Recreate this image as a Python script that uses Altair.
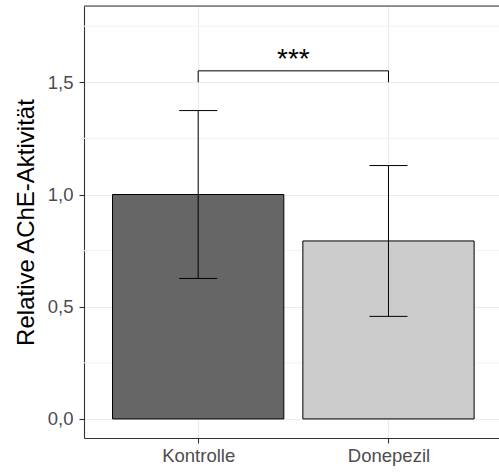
import altair as alt
import pandas as pd

# Group means with their error half-widths
categories = ["Kontrolle", "Donepezil"]
means = [1.0, 0.793]
errors = [0.374, 0.336]
bar_colors = ["#666666", "#cccccc"]

# Significance bracket between the two groups
bracket_y = 1.551
bracket_foot = 1.5
signif_label = "***"

y_ticks = [0.0, 0.5, 1.0, 1.5]
y_minor = [0.25, 0.75, 1.25, 1.75]

W, H = 415, 432
FONT = "Liberation Sans"

df = pd.DataFrame({
    "group": categories,
    "pos": list(range(1, len(categories) + 1)),
    "mean": means,
    "err": errors,
})
df["lo"] = df["mean"] - df["err"]
df["hi"] = df["mean"] + df["err"]
df["left"] = df["pos"] - 0.45
df["right"] = df["pos"] + 0.45
df["cap_l"] = df["pos"] - 0.1
df["cap_r"] = df["pos"] + 0.1

label_expr = " : ".join(
    f"datum.value == {i + 1} ? '{c}'" for i, c in enumerate(categories[:-1])
) + f" : '{categories[-1]}'"

x_scale = alt.Scale(domain=[0.4, 0.4 + W / 190.3], nice=False, zero=False)
y_scale = alt.Scale(domain=[-0.085, 1.84], nice=False, zero=False)

x_axis = alt.Axis(
    values=[1, 2], labelExpr=label_expr, title=None,
    grid=True, gridColor="#ebebeb", gridWidth=1.1,
    domainColor="#333333", domainWidth=1.1,
    tickColor="#333333", tickSize=5, tickWidth=1.1,
    labelFont=FONT, labelFontSize=18.5, labelColor="#4d4d4d",
    labelPadding=3,
)
y_axis = alt.Axis(
    values=y_ticks, format=".1f", labelExpr="replace(datum.label, '.', ',')",
    title="Relative AChE-Aktivität", titleFont=FONT, titleFontSize=24,
    titleFontWeight="normal", titleColor="#000000",
    titleAngle=270, titleBaseline="alphabetic", titleAlign="center",
    titleX=-51, titleY=H / 2,
    grid=True, gridColor="#ebebeb", gridWidth=1.1,
    domainColor="#333333", domainWidth=1.1,
    tickColor="#333333", tickSize=5, tickWidth=1.1,
    labelFont=FONT, labelFontSize=18.5, labelColor="#4d4d4d",
    labelPadding=6,
)

base = alt.Chart(df)

minor = alt.Chart(pd.DataFrame({"y": y_minor})).mark_rule(
    color="#f2f2f2", strokeWidth=1
).encode(y=alt.Y("y:Q", scale=y_scale, axis=y_axis))

bars = base.mark_rect(stroke="#000000", strokeWidth=1).encode(
    x=alt.X("left:Q", scale=x_scale, axis=x_axis),
    x2="right:Q",
    y=alt.Y("mean:Q", scale=y_scale, axis=y_axis),
    y2=alt.datum(0),
    fill=alt.Fill("group:N", scale=alt.Scale(domain=categories, range=bar_colors), legend=None),
)

whisker = base.mark_rule(color="#000000", strokeWidth=1).encode(
    x=alt.X("pos:Q", scale=x_scale),
    y=alt.Y("lo:Q", scale=y_scale),
    y2="hi:Q",
)
cap_hi = base.mark_rule(color="#000000", strokeWidth=1).encode(
    x=alt.X("cap_l:Q", scale=x_scale), x2="cap_r:Q",
    y=alt.Y("hi:Q", scale=y_scale),
)
cap_lo = base.mark_rule(color="#000000", strokeWidth=1).encode(
    x=alt.X("cap_l:Q", scale=x_scale), x2="cap_r:Q",
    y=alt.Y("lo:Q", scale=y_scale),
)

br_df = pd.DataFrame({
    "x": [1, 1, 2],
    "x2": [2, 1, 2],
    "y": [bracket_y, bracket_foot, bracket_foot],
    "y2": [bracket_y, bracket_y, bracket_y],
})
bracket = alt.Chart(br_df).mark_rule(color="#000000", strokeWidth=1).encode(
    x=alt.X("x:Q", scale=x_scale), x2="x2:Q",
    y=alt.Y("y:Q", scale=y_scale), y2="y2:Q",
)

stars = alt.Chart(pd.DataFrame({"x": [1.5], "y": [bracket_y], "t": [signif_label]})).mark_text(
    font=FONT, fontSize=28, color="#000000", baseline="alphabetic", dy=-2.5
).encode(
    x=alt.X("x:Q", scale=x_scale),
    y=alt.Y("y:Q", scale=y_scale),
    text="t:N",
)

top_border = alt.Chart(pd.DataFrame({"a": [0]})).mark_rule(
    color="#333333", strokeWidth=1.1
).encode(x=alt.value(0), x2=alt.value(W), y=alt.value(0))

chart = alt.layer(
    minor, bars, whisker, cap_hi, cap_lo, bracket, stars, top_border
).properties(
    width=W, height=H,
    autosize=alt.AutoSizeParams(type="none"),
    padding={"left": 84, "top": 6, "right": 0, "bottom": 34},
).configure_view(stroke=None).configure(background="#ffffff")

chart.save("out.html", embed_options={"renderer": "svg", "actions": False})
